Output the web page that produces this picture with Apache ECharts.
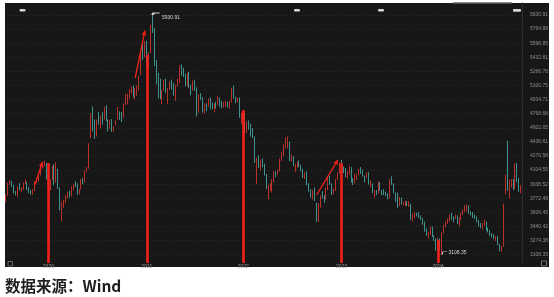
<!DOCTYPE html>
<html><head><meta charset="utf-8">
<script src="https://cdn.jsdelivr.net/npm/echarts@6/dist/echarts.min.js"></script>
<style>html,body{margin:0;padding:0;background:#fff}#c{width:554px;height:297px}</style>
</head><body><div id="c"></div>
<script>
// Weekly CSI 300 candles: [week end MM-DD, open, close, low, high]
const k2019 = [
['08-30',3760,3799,3725,3820],['09-06',3810,3948,3800,3955],['09-13',3950,3972,3930,3985],
['09-20',3965,3936,3905,3980],['09-27',3925,3852,3830,3930],['09-30',3850,3814,3808,3860],
['10-11',3810,3911,3790,3915],['10-18',3920,3870,3865,3950],['10-25',3870,3896,3845,3905],
['11-01',3895,3952,3870,3960],['11-08',3955,3973,3940,3995],['11-15',3960,3877,3870,3965],
['11-22',3875,3849,3835,3905],['11-29',3850,3828,3815,3870],['12-06',3830,3871,3815,3880],
['12-13',3870,3968,3855,3975],['12-20',3975,3990,3960,4010],['12-27',3995,4022,3970,4040]
];
const k2020 = [
['01-03',4050,4145,4040,4172],['01-10',4150,4163,4120,4190],['01-17',4165,4186,4150,4215],
['01-23',4180,4003,3995,4190],['02-07',3690,3899,3650,3915],['02-14',3890,3987,3865,3995],
['02-21',3990,4149,3985,4152],['02-28',4140,3940,3925,4175],['03-06',3960,4139,3955,4198],
['03-13',4110,3895,3880,4120],['03-20',3880,3653,3630,3900],['03-27',3570,3710,3503,3735],
['04-03',3700,3713,3660,3755],['04-10',3730,3796,3715,3810],['04-17',3785,3839,3770,3850],
['04-24',3835,3796,3780,3860],['04-30',3800,3912,3795,3915],['05-08',3880,3937,3870,3945],
['05-15',3940,3913,3905,3975],['05-22',3915,3824,3815,3950],['05-29',3830,3867,3820,3880],
['06-05',3880,3990,3875,3998],['06-12',3990,3980,3940,4010],['06-19',3975,4098,3960,4100],
['06-24',4100,4113,4080,4140],['07-03',4130,4400,4120,4420],['07-10',4490,4685,4480,4775],
['07-17',4750,4587,4560,4853],['07-24',4600,4506,4470,4700],['07-31',4520,4695,4500,4700],
['08-07',4705,4680,4640,4790],['08-14',4680,4723,4595,4745],['08-21',4730,4712,4640,4790],
['08-28',4705,4843,4700,4850],['09-04',4850,4698,4680,4870],['09-11',4690,4604,4560,4700],
['09-18',4610,4690,4590,4698],['09-25',4690,4571,4555,4705],['09-30',4575,4587,4560,4620],
['10-09',4640,4681,4630,4690],['10-16',4700,4754,4700,4850],['10-23',4755,4708,4695,4795],
['10-30',4710,4695,4670,4790],['11-06',4720,4880,4720,4890],['11-13',4890,4910,4870,5000],
['11-20',4910,4999,4880,5005],['11-27',5000,5051,4950,5060],['12-04',5050,5067,5005,5090],
['12-11',5070,4962,4960,5100],['12-18',4970,5042,4935,5070],['12-25',5030,5043,4980,5100],
['12-31',5060,5211,5040,5215]
];
const k2021 = [
['01-08',5230,5496,5220,5501],['01-15',5500,5459,5400,5580],['01-22',5470,5570,5430,5620],
['01-29',5580,5351,5330,5626],['02-05',5340,5484,5300,5495],['02-10',5490,5808,5480,5815],
['02-19',5840,5779,5720,5930.91],['02-26',5760,5336,5330,5780],['03-05',5330,5262,5115,5400],
['03-12',5230,5100,4950,5250],['03-19',5110,4960,4940,5180],['03-26',4950,5037,4880,5050],
['04-02',5050,5161,5040,5170],['04-09',5160,5035,5010,5180],['04-16',5030,5060,4880,5070],
['04-23',5070,5135,5050,5150],['04-30',5130,5123,5050,5170],['05-07',5100,4996,4980,5130],
['05-14',4990,5100,4920,5110],['05-21',5110,5130,5090,5180],['05-28',5140,5321,5130,5340],
['06-04',5320,5273,5220,5350],['06-11',5280,5225,5200,5310],['06-18',5220,5102,5090,5240],
['06-25',5110,5240,5090,5250],['07-02',5240,5081,5070,5260],['07-09',5080,5070,4985,5110],
['07-16',5070,5140,5040,5160],['07-23',5140,5069,5040,5170],['07-30',5060,4811,4735,5080],
['08-06',4800,4990,4780,5000],['08-13',4990,4961,4930,5010],['08-20',4950,4827,4780,4965],
['08-27',4820,4870,4770,4890],['09-03',4880,4866,4800,4890],['09-10',4870,4935,4850,4950],
['09-17',4930,4879,4820,4960],['09-24',4860,4849,4820,4900],['09-30',4840,4866,4790,4890],
['10-15',4890,4875,4830,4910],['10-22',4880,4946,4870,4980],['10-29',4940,4908,4850,4960],
['11-05',4900,4876,4830,4920],['11-12',4870,4888,4840,4910],['11-19',4890,4890,4850,4920],
['11-26',4890,4860,4840,4910],['12-03',4840,4911,4830,4920],['12-10',4920,5055,4900,5075],
['12-17',5060,4954,4950,5100],['12-24',4950,4921,4890,4970],['12-31',4920,4940,4900,4960]
];
const k2022 = [
['01-07',4950,4727,4720,4960],['01-14',4720,4726,4650,4780],['01-21',4730,4779,4700,4800],
['01-28',4760,4563,4540,4780],['02-11',4580,4641,4540,4680],['02-18',4640,4633,4580,4690],
['02-25',4620,4567,4500,4650],['03-04',4570,4496,4480,4600],['03-11',4480,4228,4190,4500],
['03-18',4200,4223,3942,4250],['03-25',4230,4154,4130,4280],['04-01',4130,4223,4100,4230],
['04-08',4220,4165,4140,4240],['04-15',4160,4052,4040,4180],['04-22',4040,3900,3880,4060],
['04-29',3880,3921,3757,3930],['05-06',3900,3909,3860,3950],['05-13',3900,3995,3840,4000],
['05-20',4000,4077,3960,4090],['05-27',4070,4052,4020,4090],['06-02',4070,4091,4050,4110],
['06-10',4100,4238,4090,4240],['06-17',4230,4307,4210,4320],['06-24',4300,4394,4270,4410],
['07-01',4400,4409,4360,4485],['07-08',4410,4428,4360,4501],['07-15',4420,4219,4210,4440],
['07-22',4220,4255,4200,4290],['07-29',4250,4170,4150,4270],['08-05',4150,4156,4080,4180],
['08-12',4150,4191,4130,4200],['08-19',4195,4153,4140,4220],['08-26',4150,4109,4090,4170],
['09-02',4100,4023,4010,4120],['09-09',4025,4060,4000,4080],['09-16',4060,3932,3925,4090],
['09-23',3930,3856,3850,3950],['09-30',3860,3804,3780,3880],['10-14',3820,3859,3760,3870],
['10-21',3860,3748,3740,3900],['10-28',3700,3541,3495,3720],['11-04',3520,3712,3495,3715],
['11-11',3700,3808,3660,3810],['11-18',3810,3803,3770,3855],['11-25',3790,3775,3720,3810],
['12-02',3770,3870,3760,3900],['12-09',3880,4002,3870,4030],['12-16',4000,3954,3930,4040],
['12-23',3940,3829,3810,3950],['12-30',3830,3872,3820,3890]
];
const k2023 = [
['01-06',3870,3995,3860,4000],['01-13',4000,4075,3985,4080],['01-20',4080,4182,4060,4190],
['02-03',4200,4141,4120,4225],['02-10',4130,4106,4070,4150],['02-17',4110,4034,4020,4130],
['02-24',4040,4061,4000,4090],['03-03',4060,4134,4050,4155],['03-10',4130,3967,3960,4140],
['03-17',3970,3958,3930,4010],['03-24',3960,4038,3950,4060],['03-31',4030,4051,3990,4060],
['04-07',4060,4105,4050,4120],['04-14',4105,4093,4060,4140],['04-21',4090,4053,4030,4110],
['04-28',4040,4029,3960,4040],['05-05',4030,4054,4010,4080],['05-12',4050,3941,3935,4080],
['05-19',3940,3943,3900,3985],['05-26',3940,3851,3835,3950],['06-02',3850,3864,3780,3870],
['06-09',3860,3836,3810,3870],['06-16',3840,3963,3830,3970],['06-21',3960,3864,3860,3965],
['06-30',3860,3842,3810,3870],['07-07',3840,3826,3810,3880],['07-14',3820,3816,3800,3850],
['07-21',3810,3778,3760,3830],['07-28',3780,3992,3770,4000],['08-04',4000,3940,3930,4030],
['08-11',3940,3834,3830,3950],['08-18',3830,3750,3730,3840],['08-25',3750,3710,3660,3840],
['09-01',3710,3770,3680,3790],['09-08',3770,3711,3700,3780],['09-15',3700,3709,3690,3730],
['09-22',3700,3735,3680,3745],['09-28',3730,3689,3680,3740],['10-13',3700,3704,3670,3740],
['10-20',3700,3534,3520,3710],['10-27',3530,3573,3500,3590],['11-03',3570,3585,3540,3610],
['11-10',3580,3574,3560,3600],['11-17',3570,3550,3540,3610],['11-24',3550,3533,3520,3570],
['12-01',3520,3496,3460,3540],['12-08',3490,3398,3380,3500],['12-15',3400,3341,3330,3420],
['12-22',3340,3370,3300,3380],['12-29',3370,3431,3340,3440]
];
const k2024 = [
['01-05',3430,3329,3320,3440],['01-12',3330,3285,3270,3340],['01-19',3280,3218,3156,3300],
['01-26',3210,3288,3160,3310],['02-02',3280,3180,3170,3300],['02-08',3160,3364,3108.35,3370],
['02-23',3370,3446,3360,3460],['03-01',3450,3478,3430,3500],['03-08',3480,3516,3470,3535],
['03-15',3520,3547,3500,3580],['03-22',3550,3546,3520,3600],['03-29',3540,3537,3490,3560],
['04-03',3540,3543,3530,3580],['04-12',3540,3475,3470,3570],['04-19',3470,3541,3440,3550],
['04-26',3540,3574,3520,3600],['04-30',3580,3604,3575,3640],['05-10',3620,3660,3610,3690],
['05-17',3650,3667,3620,3700],['05-24',3670,3601,3590,3690],['05-31',3600,3579,3570,3620],
['06-07',3580,3570,3540,3610],['06-14',3560,3546,3530,3580],['06-21',3540,3502,3490,3560],
['06-28',3500,3462,3440,3520],['07-05',3460,3432,3420,3480],['07-12',3430,3472,3400,3480],
['07-19',3470,3498,3450,3520],['07-26',3490,3409,3390,3500],['08-02',3410,3387,3370,3430],
['08-09',3380,3343,3330,3400],['08-16',3340,3331,3310,3360],['08-23',3330,3305,3290,3350],
['08-30',3300,3321,3270,3330],['09-06',3320,3230,3220,3330],['09-13',3225,3160,3150,3235],
['09-20',3160,3201,3140,3210],['09-27',3210,3703,3200,3710],['09-30',3830,4017,3820,4050],
['10-11',4400,3887,3860,4450],['10-18',3880,3910,3770,3990],['10-25',3910,3956,3900,4000],
['11-01',3950,3890,3870,4000],['11-08',3900,4150,3880,4180],['11-15',4140,3968,3960,4190],
['11-22',3960,3865,3850,4010],['11-29',3860,3917,3830,3930]
];

// Right-axis tick labels as printed in the chart
const yTicks = [3108.35,3274.38,3440.42,3606.45,3772.48,3938.52,4104.55,4270.58,4436.61,
                4602.65,4768.68,4934.71,5100.75,5266.78,5432.81,5598.85,5764.88,5930.91];

// Year markers (red bars) and rally arrows
const yearMarkWeeks = ['2020-02-07','2021-01-29','2022-01-21','2023-02-03','2024-01-26'];
const yearMarkTops  = [4188, 5460, 4810, 4188, 3280];
const rallyFrom = [['2019-12-13',3929],['2020-12-18',5189],['2022-10-28',3811]];
const rallyTo   = [['2020-01-10',4203],['2021-01-22',5746],['2023-01-13',4223]];

const byYear = [['2019',k2019],['2020',k2020],['2021',k2021],['2022',k2022],['2023',k2023],['2024',k2024]];
const categories = [], candles = [];
byYear.forEach(([y, rows]) => rows.forEach(r => { categories.push(y + '-' + r[0]); candles.push(r.slice(1)); }));

const Y_MIN = 3010.6, Y_MAX = 6072.2;
const RED = '#f2221b';

const barLines = yearMarkWeeks.map((w, i) => [
  {coord: [w, yearMarkTops[i]], symbol: 'none', lineStyle: {color: RED, width: 2.6, type: 'solid'}},
  {coord: [w, Y_MIN]}
]);
const arrowLines = rallyFrom.map((f, i) => [
  {coord: f, symbol: 'none', lineStyle: {color: RED, width: 1.3, type: 'solid'}},
  {coord: rallyTo[i], symbol: 'arrow', symbolSize: [4, 5]}
]);

const chart = echarts.init(document.getElementById('c'), null, {renderer: 'canvas'});
chart.setOption({
  animation: false,
  backgroundColor: '#ffffff',
  title: {
    text: '数据来源：Wind', left: 5, top: 278, padding: 0,
    textStyle: {fontFamily: 'Noto Sans CJK SC', fontWeight: 'bold', fontSize: 15.5, color: '#1e1e1e'}
  },
  graphic: [
    {type: 'rect', z: -10, shape: {x: 5, y: 3, width: 544, height: 264}, style: {fill: '#171717'}},
    {type: 'rect', z: 50, shape: {x: 453, y: 2, width: 59, height: 1.5}, style: {fill: '#8a8a8a'}},
    {type: 'rect', z: 50, shape: {x: 19.5, y: 9, width: 6, height: 2.6, r: 1}, style: {fill: '#d6d6d6'}},
    {type: 'rect', z: 50, shape: {x: 294, y: 9, width: 6, height: 2.6, r: 1}, style: {fill: '#d6d6d6'}},
    {type: 'rect', z: 50, shape: {x: 378, y: 9, width: 6, height: 2.6, r: 1}, style: {fill: '#d6d6d6'}},
    {type: 'rect', z: 50, shape: {x: 513, y: 9, width: 8, height: 2.8, r: 1}, style: {fill: '#d6d6d6'}},
    {type: 'rect', z: 50, shape: {x: 8, y: 261.5, width: 4.5, height: 4.5}, style: {fill: 'none', stroke: '#777', lineWidth: 0.8}},
    {type: 'rect', z: 50, shape: {x: 541.5, y: 261, width: 5, height: 5}, style: {fill: 'none', stroke: '#8a8a8a', lineWidth: 0.8}}
  ],
  grid: {left: 5, right: 32, top: 3, bottom: 34},
  xAxis: {
    type: 'category', data: categories, boundaryGap: true,
    axisLine: {show: false}, axisTick: {show: false}, splitLine: {show: false},
    axisLabel: {
      interval: (idx, val) => yearMarkWeeks.includes(val),
      formatter: v => v.slice(0, 4),
      fontSize: 5, color: '#9c9c9c', margin: 1.5, fontFamily: 'Liberation Sans'
    }
  },
  yAxis: {
    type: 'value', position: 'right', min: Y_MIN, max: Y_MAX, scale: true,
    axisLine: {show: true, lineStyle: {color: '#2c2c2c', width: 1}},
    axisTick: {show: false, customValues: yTicks},
    axisLabel: {
      customValues: yTicks, formatter: v => v.toFixed(2),
      fontSize: 5, color: '#8e8e8e', margin: 8, fontFamily: 'Liberation Sans'
    },
    splitLine: {show: true, lineStyle: {color: '#2f2f2f', width: 0.8, type: [1, 2]}}
  },
  series: [{
    type: 'candlestick', data: candles, barWidth: 1.1,
    itemStyle: {color: '#ff3b30', color0: '#4fc9c2', borderColor: '#ff3b30', borderColor0: '#4fc9c2', borderWidth: 0.7},
    markPoint: {
      silent: true,
      data: [
        {type: 'max', valueDim: 'highest', symbol: 'path://M0,2 L1,0 L7,0', symbolSize: [7, 2], symbolOffset: [3.5, -1],
         label: {position: 'right', distance: 1, offset: [0, 4]}},
        {type: 'min', valueDim: 'lowest', symbol: 'path://M0,3 L1,0 L5,0', symbolSize: [5, 3], symbolOffset: [2.5, -1.5],
         label: {position: 'right', distance: 1, offset: [0, -1]}}
      ],
      itemStyle: {color: 'transparent', borderColor: '#d0d0d0', borderWidth: 0.8},
      label: {show: true, formatter: p => Number(p.value).toFixed(2), fontSize: 5, color: '#d6d6d6', fontFamily: 'Liberation Sans'}
    },
    markLine: {
      silent: true, animation: false,
      data: barLines.concat(arrowLines),
      symbol: ['none', 'none'],
      label: {show: false},
      lineStyle: {color: RED, type: 'solid', opacity: 1}
    }
  }]
});
</script>
</body></html>
